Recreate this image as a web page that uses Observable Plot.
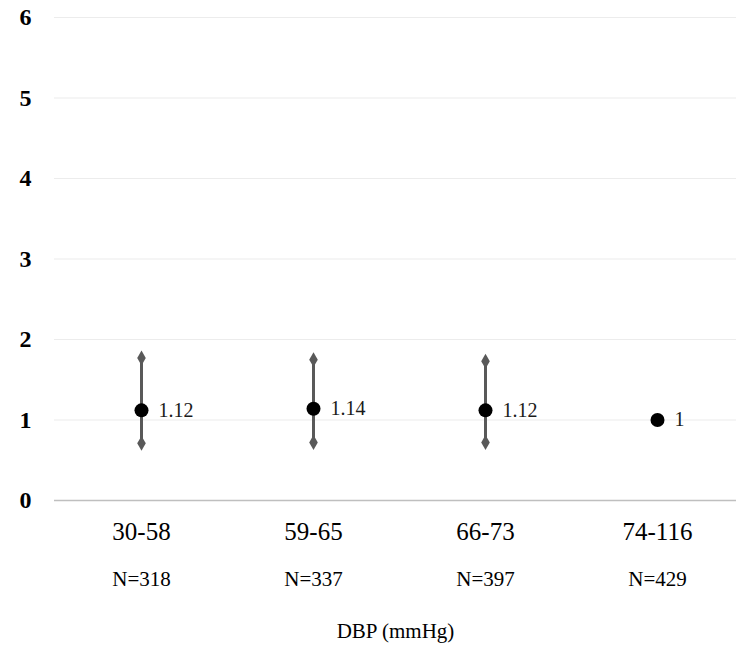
<!DOCTYPE html>
<html>
<head>
<meta charset="utf-8">
<script src="https://cdn.jsdelivr.net/npm/d3@7"></script>
<script src="https://cdn.jsdelivr.net/npm/@observablehq/plot@0.6"></script>
<style>
  html, body { margin: 0; padding: 0; background: #fff; }
  #chart svg { display: block; }
</style>
</head>
<body>
<div id="chart"></div>
<script>
const categories = ["30-58", "59-65", "66-73", "74-116"];
const estimates = [1.12, 1.14, 1.12, 1];
const lower = [0.71, 0.72, 0.72, null];
const upper = [1.77, 1.75, 1.73, null];
const nLabels = ["N=318", "N=337", "N=397", "N=429"];
const yTicks = [0, 1, 2, 3, 4, 5, 6];
const xTitle = "DBP (mmHg)";

const rows = categories.map((c, i) => ({
  cat: c, est: estimates[i], lo: lower[i], hi: upper[i], n: nLabels[i]
}));
const ciRows = rows.filter(d => d.lo != null);
const nByCat = Object.fromEntries(rows.map(d => [d.cat, d.n]));

const serif = "'Liberation Serif', 'Times New Roman', serif";

const chart = Plot.plot({
  width: 736,
  height: 649,
  marginTop: 17,
  marginBottom: 149,
  marginLeft: 54,
  marginRight: 0,
  style: { fontFamily: serif, background: "#fff", color: "#000" },
  x: { type: "point", domain: categories, range: [54, 743], padding: 0.5 },
  y: { domain: [0, 6], ticks: yTicks },
  marks: [
    Plot.gridY(yTicks.filter(t => t > 0), { stroke: "#ececec", strokeOpacity: 1, strokeWidth: 1.2 }),
    Plot.ruleY([0], { stroke: "#bfbfbf", strokeWidth: 1.5 }),
    Plot.axisY({ ticks: yTicks, tickFormat: d => String(d), tickSize: 0, tickPadding: 23, fontSize: 24, fontWeight: "bold", label: null }),
    Plot.axisX({ tickSize: 0, tickPadding: 22, fontSize: 25, label: null }),
    Plot.axisX({ tickSize: 0, tickPadding: 71, fontSize: 21, tickFormat: d => nByCat[d], label: xTitle, labelAnchor: "center", labelOffset: 137, labelArrow: "none" }),
    Plot.ruleX(ciRows, { x: "cat", y1: "lo", y2: "hi", stroke: "#595959", strokeWidth: 3 }),
    Plot.dot(ciRows, { x: "cat", y: "lo", symbol: "diamond", r: 4.5, fill: "#595959", stroke: "none" }),
    Plot.dot(ciRows, { x: "cat", y: "hi", symbol: "diamond", r: 4.5, fill: "#595959", stroke: "none" }),
    Plot.dot(rows, { x: "cat", y: "est", r: 7, fill: "#000", stroke: "none" }),
    Plot.text(rows, { x: "cat", y: "est", text: d => String(d.est), dx: 17, textAnchor: "start", fontSize: 20, fill: "#1a1a1a" })
  ]
});

document.getElementById("chart").appendChild(chart);
</script>
</body>
</html>
